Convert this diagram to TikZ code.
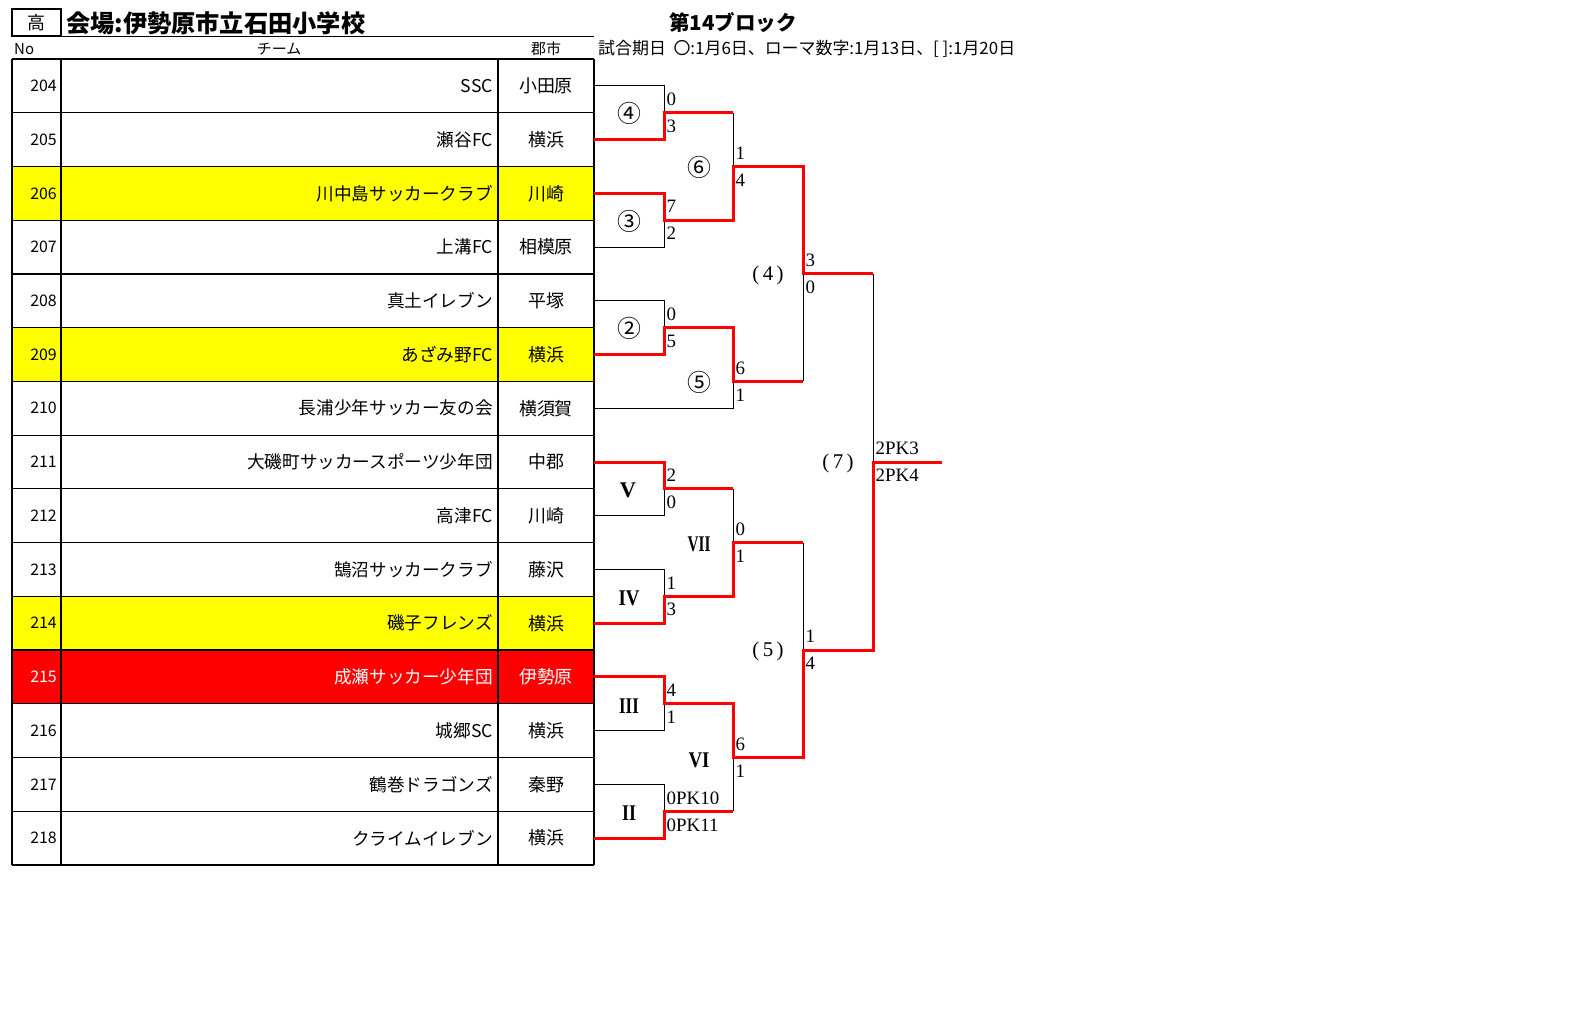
\documentclass[tikz,border=0pt]{standalone}
\usepackage{graphicx}
\usepackage{fontspec}
\setmainfont{Liberation Serif}
\newfontfamily\jp{Noto Sans CJK JP}
\definecolor{hlyellow}{RGB}{255,255,0}
\definecolor{hlred}{RGB}{255,0,0}
\begin{document}
\begin{tikzpicture}[x=1bp,y=-1bp,
  grid/.style={draw=black,line width=1.2bp},
  bk/.style={draw=black,line width=1bp},
  rd/.style={draw=hlred,line width=3bp,line join=miter},
  numtxt/.style={font=\jp\fontsize{16}{16}\selectfont,anchor=east,inner sep=0pt},
  teamtxt/.style={font=\jp\fontsize{17.7}{17.7}\selectfont,anchor=east,inner sep=0pt},
  citytxt/.style={font=\jp\fontsize{18}{18}\selectfont,anchor=center,inner sep=0pt},
  score/.style={font=\fontsize{19}{19}\selectfont,anchor=west,inner sep=0pt},
  circ/.style={font=\jp\fontsize{24}{24}\selectfont,inner sep=0pt},
  roman/.style={font=\bfseries\fontsize{22.5}{22.5}\selectfont,inner sep=0pt},
  paren/.style={font=\fontsize{21}{21}\selectfont,inner sep=0pt}]
\useasboundingbox (0,0) rectangle (1576,1016);
\fill[white] (0,0) rectangle (1576,1016);

% header
\draw[line width=2bp] (12,8.5) rectangle (61,35.5);
\node[font=\jp\fontsize{18}{18}\selectfont,inner sep=0pt] (kou) at (36.5,23) {高};
\node[font=\jp\bfseries\fontsize{24.3}{24.3}\selectfont,anchor=west,inner sep=0pt] (venue) at (66,23) {会場:伊勢原市立石田小学校};
\draw[line width=1bp] (61,36) -- (594,36);
\node[font=\jp\fontsize{15}{15}\selectfont,anchor=west,inner sep=0pt] (hno) at (14,49) {No};
\node[font=\jp\fontsize{15}{15}\selectfont,inner sep=0pt] (hteam) at (279,49) {チーム};
\node[font=\jp\fontsize{15}{15}\selectfont,inner sep=0pt] (hcity) at (546,49) {郡市};
\node[font=\jp\bfseries\fontsize{20.6}{20.6}\selectfont,anchor=west,inner sep=0pt] (block) at (669,23) {第14ブロック};
\node[font=\jp\fontsize{17}{17}\selectfont,anchor=west,inner sep=0pt] (dates) at (598,49) {試合期日\ \ 〇:1月6日、ローマ数字:1月13日、[ ]:1月20日};

% table rows
\foreach \i/\n/\team/\city/\bg/\fg in {
  0/204/SSC/小田原/white/black,
  1/205/瀬谷FC/横浜/white/black,
  2/206/川中島サッカークラブ/川崎/hlyellow/black,
  3/207/上溝FC/相模原/white/black,
  4/208/真土イレブン/平塚/white/black,
  5/209/あざみ野FC/横浜/hlyellow/black,
  6/210/長浦少年サッカー友の会/横須賀/white/black,
  7/211/大磯町サッカースポーツ少年団/中郡/white/black,
  8/212/高津FC/川崎/white/black,
  9/213/鵠沼サッカークラブ/藤沢/white/black,
  10/214/磯子フレンズ/横浜/hlyellow/black,
  11/215/成瀬サッカー少年団/伊勢原/hlred/white,
  12/216/城郷SC/横浜/white/black,
  13/217/鶴巻ドラゴンズ/秦野/white/black,
  14/218/クライムイレブン/横浜/white/black}{
  \pgfmathsetmacro{\yt}{59+\i*53.733}
  \pgfmathsetmacro{\yc}{\yt+26.867}
  \fill[\bg] (12,\yt) rectangle (594,\yt+53.733);
  \node[numtxt,text=\fg] (no\n) at (57,\yc) {\n};
  \node[teamtxt,text=\fg] (team\n) at (493,\yc) {\team};
  \node[citytxt,text=\fg] (city\n) at (546,\yc) {\city};
  \coordinate (e\n) at (594,\yc);
}
\foreach \i in {0,...,15}{
  \pgfmathsetmacro{\yy}{59+\i*53.733}
  \draw[grid] (12,\yy) -- (594,\yy);
}
\draw[grid] (12,59) -- (12,865);
\draw[grid] (61,59) -- (61,865);
\draw[grid] (498,59) -- (498,865);
\draw[grid] (594,59) -- (594,865);

% junction coordinates
\coordinate (jA) at (664,112.7);
\coordinate (jB) at (664,220.2);
\coordinate (jC) at (664,327.7);
\coordinate (jD) at (664,488.9);
\coordinate (jE) at (664,596.3);
\coordinate (jF) at (664,703.8);
\coordinate (jG) at (664,811.3);
\coordinate (u6) at (733,112.7);
\coordinate (j6) at (733,166.5);
\coordinate (l6) at (733,220.2);
\coordinate (u5) at (733,327.7);
\coordinate (j5) at (733,381.4);
\coordinate (uVII) at (733,488.9);
\coordinate (jVII) at (733,542.6);
\coordinate (lVII) at (733,596.3);
\coordinate (uVI) at (733,703.8);
\coordinate (jVI) at (733,757.5);
\coordinate (lVI) at (733,811.3);
\coordinate (u4) at (803,166.5);
\coordinate (j4) at (803,273.9);
\coordinate (l4) at (803,381.4);
\coordinate (u5b) at (803,542.6);
\coordinate (j5b) at (803,650.1);
\coordinate (l5b) at (803,757.5);
\coordinate (u7) at (873,273.9);
\coordinate (j7) at (873,462.0);
\coordinate (l7) at (873,650.1);
\coordinate (fin) at (942,462.0);

% black (losing) paths
\draw[bk] (e204) -| (jA);
\draw[bk] (u6) -- (j6);
\draw[bk] (e207) -| (jB);
\draw[bk] (e208) -| (jC);
\draw[bk] (e210) -| (j5);
\draw[bk] (l4) -- (j4);
\draw[bk] (u7) -- (j7);
\draw[bk] (e212) -| (jD);
\draw[bk] (uVII) -- (jVII);
\draw[bk] (e213) -| (jE);
\draw[bk] (u5b) -- (j5b);
\draw[bk] (e216) -| (jF);
\draw[bk] (e217) -| (jG);
\draw[bk] (lVI) -- (jVI);

% red (winning) paths
\draw[rd] (e205) -| (jA) -- (u6);
\draw[rd] (e206) -| (jB) -- (l6) -- (j6) -- (u4) -- (j4) -- (u7);
\draw[rd] (e209) -| (jC) -- (u5) -- (j5) -- (l4);
\draw[rd] (e211) -| (jD) -- (uVII);
\draw[rd] (e214) -| (jE) -- (lVII) -- (jVII) -- (u5b);
\draw[rd] (e215) -| (jF) -- (uVI) -- (jVI) -- (l5b) -- (j5b) -- (l7) -- (j7) -- (fin);
\draw[rd] (e218) -| (jG) -- (lVI);

% scores
\foreach \c/\a/\b/\nm in {jA/0/3/sA, jB/7/2/sB, jC/0/5/sC, j6/1/4/s6, j5/6/1/s5, j4/3/0/s4,
  jD/2/0/sD, jE/1/3/sE, jF/4/1/sF, jG/0PK10/0PK11/sG, jVII/0/1/sVII, jVI/6/1/sVI, j5b/1/4/s5b, j7/2PK3/2PK4/s7}{
  \node[score] (\nm t) at ([xshift=2.5bp,yshift=13.5bp]\c) {\a};
  \node[score] (\nm b) at ([xshift=2.5bp,yshift=-13.5bp]\c) {\b};
}

% match labels
\node[circ] (m4) at (629,113) {④};
\node[circ] (m3) at (629,221) {③};
\node[circ] (m2) at (629,328) {②};
\node[circ] (m6) at (699,167) {⑥};
\node[circ] (m5) at (699,382) {⑤};
\node[paren] (p4) at (768,275) {(\,4\,)};
\node[roman] (rV) at (628,490) {V};
\node[roman] (rIV) at (629,598) {\scalebox{0.84}[1]{IV}};
\node[roman] (rVII) at (699,544) {\scalebox{0.68}[1]{VII}};
\node[roman] (rIII) at (629,706) {\scalebox{0.75}[1]{III}};
\node[roman] (rII) at (629,813) {\scalebox{0.8}[1]{II}};
\node[roman] (rVI) at (699,760) {\scalebox{0.84}[1]{VI}};
\node[paren] (p5) at (768,651) {(\,5\,)};
\node[paren] (p7) at (838,463) {(\,7\,)};
\end{tikzpicture}
\end{document}
